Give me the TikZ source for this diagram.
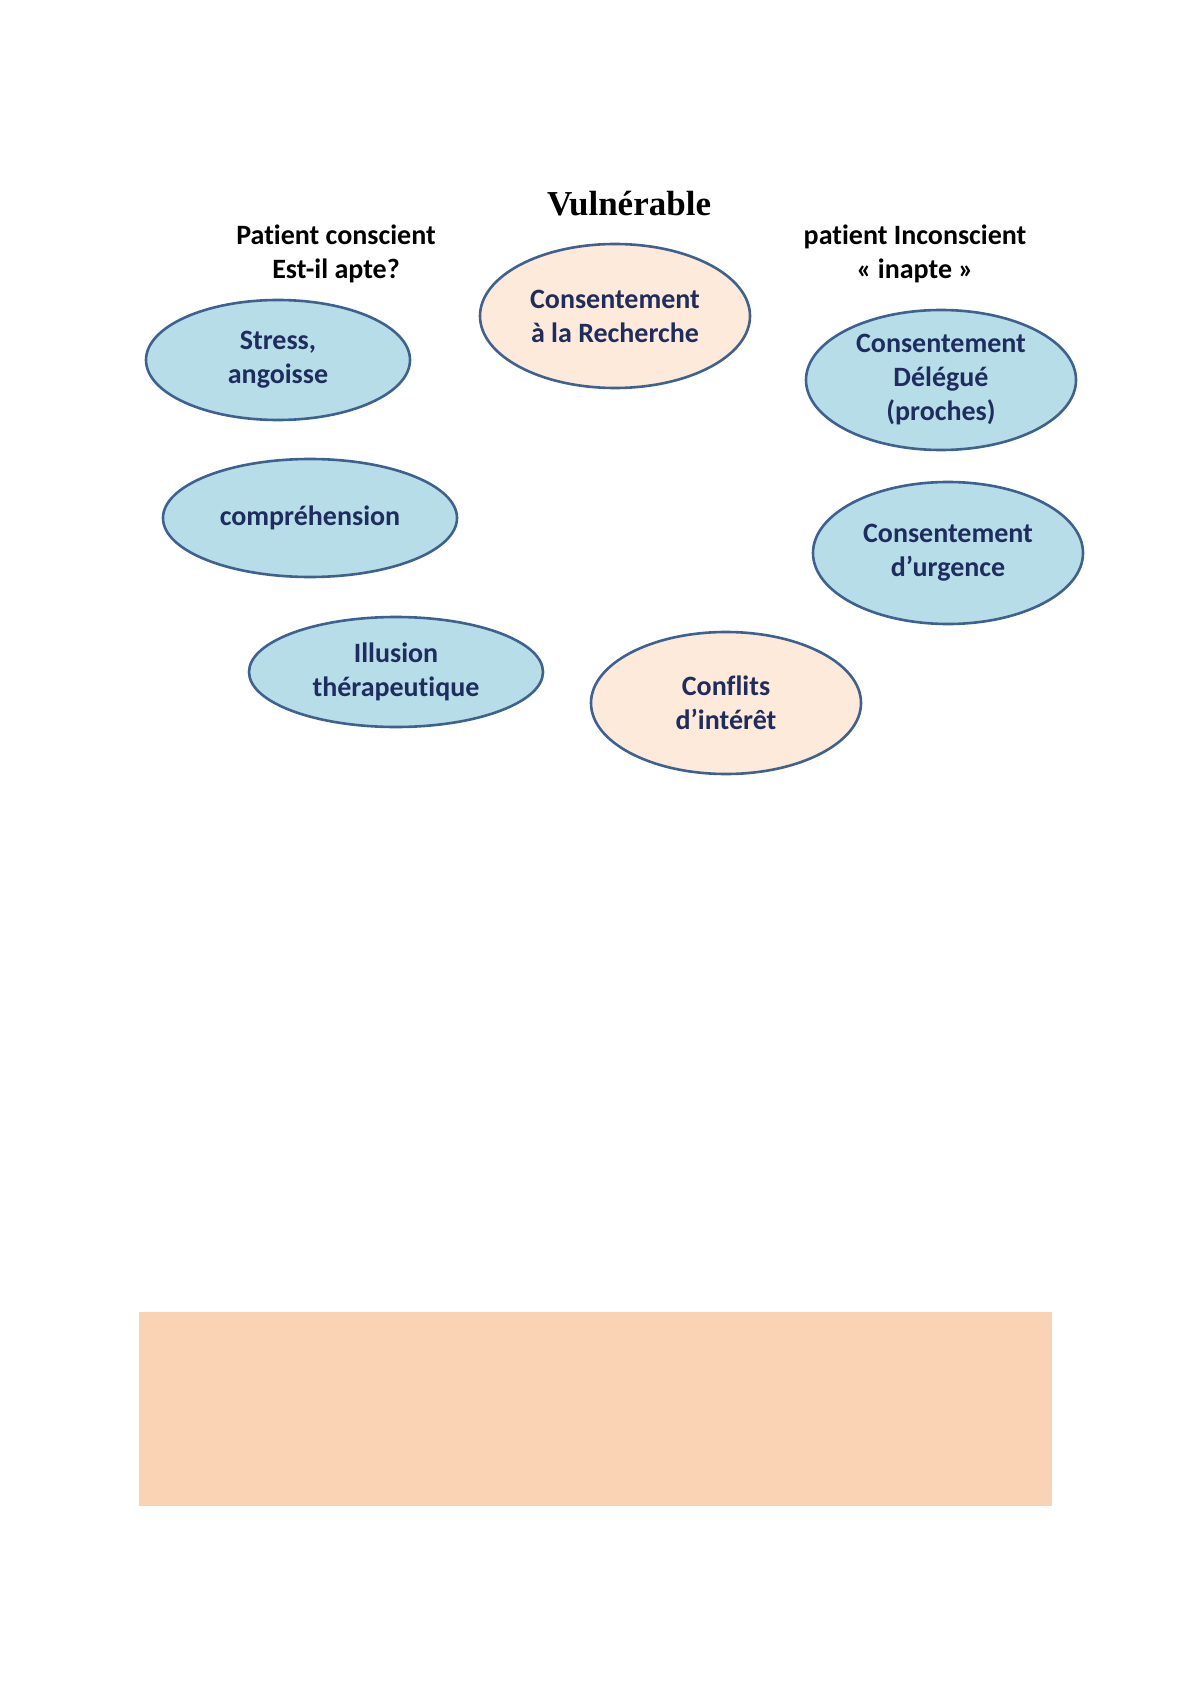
\documentclass[tikz,border=0pt]{standalone}
\usepackage{fontspec}
\setmainfont[Ligatures=NoCommon]{Carlito}
\newfontfamily\titlefont{Liberation Serif}
\usetikzlibrary{shapes.geometric}
\definecolor{bluefill}{HTML}{B7DDE8}
\definecolor{peachfill}{HTML}{FDEADA}
\definecolor{edgeblue}{HTML}{3E6190}
\definecolor{navytext}{HTML}{1F2D5E}
\definecolor{boxfill}{HTML}{FAD3B5}
\tikzset{
  bubble/.style={ellipse, draw=edgeblue, line width=1.3pt, inner sep=0pt,
    align=center, text=navytext, font=\fontsize{14}{17}\selectfont\bfseries},
  bluebubble/.style={bubble, fill=bluefill},
  peachbubble/.style={bubble, fill=peachfill},
  headlabel/.style={align=center, text=black, font=\fontsize{14}{17}\selectfont\bfseries}
}
\begin{document}
\begin{tikzpicture}[x=0.5pt,y=-0.5pt]
\useasboundingbox (0,0) rectangle (1191,1684);
\fill[white] (0,0) rectangle (1191,1684);
\node[font=\titlefont\fontsize{17.5}{20}\selectfont\bfseries] (title) at (629,204) {Vulnérable};
\node[headlabel] (left) at (336,254) {Patient conscient\\Est-il apte?};
\node[headlabel] (right) at (915,254) {patient Inconscient\\« inapte »};
\node[peachbubble, minimum width=135pt, minimum height=72pt] (rech) at (615,316) {Consentement\\à la Recherche};
\node[bluebubble, minimum width=132pt, minimum height=60pt] (stress) at (278,360) {Stress,\\angoisse};
\node[bluebubble, minimum width=147pt, minimum height=59pt] (comp) at (310,518) {compréhension};
\node[bluebubble, minimum width=147pt, minimum height=55pt] (illu) at (396,672) {Illusion\\thérapeutique};
\node[peachbubble, minimum width=135pt, minimum height=71pt] (conf) at (726,703) {Conflits\\d’intérêt};
\node[bluebubble, minimum width=135pt, minimum height=70pt] (deleg) at (941,380) {Consentement\\Délégué\\(proches)};
\node[bluebubble, minimum width=135pt, minimum height=71pt] (urg) at (948,553) {Consentement\\d’urgence};
\fill[boxfill] (139,1312) rectangle (1052,1506);
\end{tikzpicture}
\end{document}
